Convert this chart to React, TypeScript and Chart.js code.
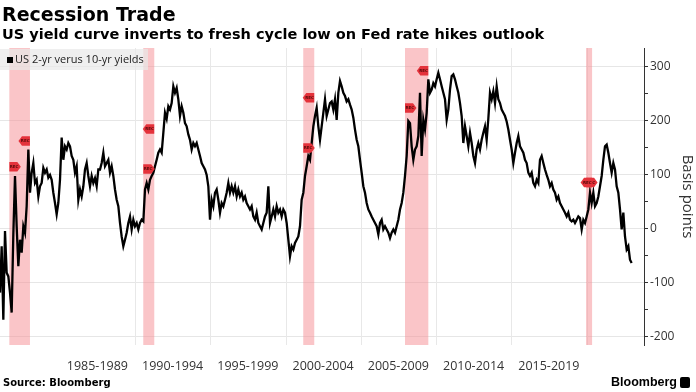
import React, { useEffect, useRef } from 'react';
import { Chart, registerables } from 'chart.js';

Chart.register(...registerables);

const TITLE = 'Recession Trade';
const SUBTITLE = 'US yield curve inverts to fresh cycle low on Fed rate hikes outlook';
const SERIES_LABEL = 'US 2-yr verus 10-yr yields';
const AXIS_TITLE = 'Basis points';
const SOURCE = 'Source: Bloomberg';
const BRAND = 'Bloomberg';
const TAG_TEXT = 'REC';

// Spread samples, roughly every 40 days, starting early 1981 (basis points)
const FIRST_SAMPLE_YEAR = 1981.03;
const SAMPLE_INTERVAL_YEARS = 0.11074;
const spreadBp = [
  -118, -32, -168, -4, -81, -88, -118, -155, -10, 98,
  5, -69, -20, -44, 5, -7, 42, 147, 67, 104,
  122, 85, 91, 60, 79, 85, 113, 104, 110, 95,
  100, 91, 67, 48, 27, 48, 91, 169, 128, 153,
  147, 159, 153, 135, 128, 104, 116, 54, 73, 60,
  79, 110, 122, 98, 79, 98, 85, 94, 79, 110,
  110, 122, 141, 116, 122, 128, 104, 116, 98, 73,
  54, 42, 11, -14, -32, -20, -7, 11, 23, -1,
  17, 5, 11, -1, 11, 17, 14, 73, 85, 73,
  91, 98, 104, 116, 128, 141,
  147, 141, 178, 215, 204, 227, 221, 233, 264, 252,
  261, 240, 209, 227, 215, 196, 190, 175, 165, 147,
  159, 153, 159, 147, 135, 122, 116, 110, 100, 79,
  17, 54, 42, 67, 73, 54, 30, 48, 42, 54,
  67, 85, 67, 79, 67, 79, 60, 73, 60, 67,
  54, 60, 48, 42, 36, 42, 23, 17, 30, 11,
  5, -1, 11, 23, 30, 79, 11, 23, 36, 23,
  42, 30, 36, 23, 36, 30, 11, -20, -51, -32,
  -38, -26, -20, -14, 5, 54, 67, 98, 116, 135,
  128, 159, 190, 209, 224, 190, 165, 190, 215,
  240, 209, 221, 233, 236, 221, 240, 202, 252, 274,
  264, 252, 246, 236, 240, 230, 221, 206, 184, 165,
  153, 128, 104, 79, 67, 48, 36, 30, 23, 17,
  11, 5, -10, 11, 17, -1, 5, -1, -7, -17,
  -7, -1, -7, 5, 17, 36, 48, 67, 98, 135,
  200, 196, 153, 128, 147, 153, 172, 252, 135, 202,
  184, 215, 277, 252, 258, 270, 264, 277, 289, 277,
  264, 252, 240, 202, 221, 258, 283, 286, 277, 264,
  252, 233, 209, 159, 190, 172, 153, 178, 159, 135,
  122, 147, 159, 147, 165, 178,
  190, 165, 204, 252, 240, 255, 233, 264, 240, 233,
  221, 215, 209, 199, 184, 165, 147, 122, 141, 159,
  172, 153, 147, 141, 128, 122, 104, 98, 104, 85,
  79, 91, 85, 128, 135, 122, 110, 100, 91, 79,
  85, 73, 67, 54, 60, 48, 42, 36, 30, 23,
  30, 17, 14, 17, 11, 17, 23, 20, -1, 17,
  11, 23, 36, 67, 48, 67, 42, 48, 60, 79,
  98, 128, 153, 156, 141, 122, 104, 122, 110, 79,
  67, 36, -1, 30, -14, -38, -32, -57, -63,
];

const periodLabels = ['1985-1989', '1990-1994', '1995-1999', '2000-2004', '2005-2009', '2010-2014', '2015-2019'];
const periodCenters = [1987.5, 1992.5, 1997.5, 2002.5, 2007.5, 2012.5, 2017.5];
const periodBoundaries = [1990, 1995, 2000, 2005, 2010, 2015, 2020];
const yTickValues = [-200, -150, -100, -50, 0, 50, 100, 150, 200, 250, 300];

const recessionStart = [1981.65, 1990.55, 2001.18, 2007.94, 2019.97];
const recessionEnd = [1983.02, 1991.28, 2001.91, 2009.49, 2020.37];
const startTagBp = [115, 111, 150, 224, 86];
const endTagBp = [163, 185, 243, 293, 86];

const X_MIN = 1981.03;
const X_MAX = 2023.82;
const Y_MIN = -215;
const Y_MAX = 335;

function drawTag(ctx: CanvasRenderingContext2D, edge: number, y: number, dir: number) {
  const w = 11.5;
  const h = 9.5;
  const p = 3.5;
  ctx.beginPath();
  if (dir > 0) {
    ctx.moveTo(edge, y - h / 2);
    ctx.lineTo(edge + w - p, y - h / 2);
    ctx.lineTo(edge + w, y);
    ctx.lineTo(edge + w - p, y + h / 2);
    ctx.lineTo(edge, y + h / 2);
  } else {
    ctx.moveTo(edge, y - h / 2);
    ctx.lineTo(edge - w + p, y - h / 2);
    ctx.lineTo(edge - w, y);
    ctx.lineTo(edge - w + p, y + h / 2);
    ctx.lineTo(edge, y + h / 2);
  }
  ctx.closePath();
  ctx.fillStyle = '#e4323b';
  ctx.fill();
  ctx.fillStyle = '#5a0a0a';
  ctx.font = 'bold 4px "DejaVu Sans"';
  ctx.textAlign = 'center';
  ctx.textBaseline = 'middle';
  ctx.fillText(TAG_TEXT, edge + (dir > 0 ? w / 2 - 1 : -w / 2 + 1), y);
}

export default function App() {
  const ref = useRef<HTMLCanvasElement>(null);

  useEffect(() => {
    const canvas = ref.current;
    if (!canvas) return;
    const points = spreadBp.map((v, i) => ({ x: FIRST_SAMPLE_YEAR + i * SAMPLE_INTERVAL_YEARS, y: v }));

    const overlay = {
      id: 'overlay',
      beforeDatasetsDraw(chart: any) {
        const { ctx, chartArea: a, scales } = chart;
        const x = scales.x;
        ctx.save();
        ctx.strokeStyle = '#e8e8e8';
        ctx.lineWidth = 1;
        periodBoundaries.forEach((yr) => {
          const px = Math.round(x.getPixelForValue(yr)) + 0.5;
          ctx.beginPath();
          ctx.moveTo(px, a.top);
          ctx.lineTo(px, a.bottom);
          ctx.stroke();
        });
        recessionStart.forEach((s, i) => {
          const x0 = x.getPixelForValue(s);
          const x1 = x.getPixelForValue(recessionEnd[i]);
          ctx.fillStyle = 'rgba(245,140,146,0.5)';
          ctx.fillRect(x0, a.top, x1 - x0, a.bottom - a.top);
        });
        ctx.restore();
      },
      afterDatasetsDraw(chart: any) {
        const { ctx, chartArea: a, scales } = chart;
        const x = scales.x;
        const y = scales.y;
        ctx.save();
        ctx.fillStyle = 'rgba(232,232,232,0.7)';
        ctx.fillRect(a.left, a.top + 1, 148, 21);
        ctx.fillStyle = '#000';
        ctx.fillRect(a.left + 7, a.top + 9, 6, 6);
        ctx.font = '11px "Open Sans"';
        ctx.fillStyle = '#222';
        ctx.textAlign = 'left';
        ctx.textBaseline = 'middle';
        ctx.fillText(SERIES_LABEL, a.left + 15, a.top + 12);
        recessionStart.forEach((s, i) => {
          drawTag(ctx, x.getPixelForValue(s), y.getPixelForValue(startTagBp[i]), 1);
          drawTag(ctx, x.getPixelForValue(recessionEnd[i]), y.getPixelForValue(endTagBp[i]), -1);
        });
        ctx.restore();
      },
    };

    const chart = new Chart(canvas, {
      type: 'line',
      data: {
        datasets: [
          {
            label: SERIES_LABEL,
            data: points,
            borderColor: '#000',
            borderWidth: 2.3,
            borderJoinStyle: 'miter',
            pointRadius: 0,
            tension: 0,
            fill: false,
          },
        ],
      },
      options: {
        responsive: false,
        animation: false,
        devicePixelRatio: 1,
        layout: { padding: { top: 48, left: 0, right: 0, bottom: 0 } },
        plugins: { legend: { display: false }, tooltip: { enabled: false }, title: { display: false } },
        scales: {
          x: {
            type: 'linear',
            position: 'bottom',
            min: X_MIN,
            max: X_MAX,
            afterBuildTicks: (s: any) => {
              s.ticks = periodCenters.map((v) => ({ value: v }));
            },
            afterFit: (s: any) => {
              s.height = 47;
            },
            grid: { display: false, drawTicks: false },
            border: { display: false },
            ticks: {
              autoSkip: false,
              maxRotation: 0,
              padding: 14,
              color: '#333',
              font: { family: 'Open Sans', size: 12.5 },
              callback: (_v: any, i: number) => periodLabels[i],
            },
          },
          y: {
            position: 'right',
            min: Y_MIN,
            max: Y_MAX,
            afterBuildTicks: (s: any) => {
              s.ticks = yTickValues.map((v) => ({ value: v }));
            },
            afterFit: (s: any) => {
              s.width = 52;
            },
            grid: {
              color: (c: any) => (c.tick && c.tick.value % 100 === 0 ? '#e6e6e6' : 'rgba(0,0,0,0)'),
              tickColor: '#333',
              tickLength: 4,
              lineWidth: 1,
            },
            border: { display: true, color: '#333', width: 1 },
            ticks: {
              autoSkip: false,
              padding: 2,
              color: '#333',
              font: { family: 'Open Sans', size: 12 },
              callback: (v: any) => (Number(v) % 100 === 0 ? String(v) : ''),
            },
            title: {
              display: true,
              text: AXIS_TITLE,
              color: '#333',
              padding: 0,
              font: { family: 'Open Sans', size: 15 },
            },
          },
        },
      },
      plugins: [overlay],
    });
    return () => chart.destroy();
  }, []);

  return (
    <div style={{ position: 'absolute', left: 0, top: 0, width: 696, height: 392, background: '#fff', overflow: 'hidden' }}>
      <canvas ref={ref} width={696} height={392} style={{ position: 'absolute', left: 0, top: 0, width: 696, height: 392 }} />
      <div style={{ position: 'absolute', left: 2, top: 5, font: 'bold 19px/19px "DejaVu Sans"', color: '#000', whiteSpace: 'nowrap' }}>{TITLE}</div>
      <div style={{ position: 'absolute', left: 2, top: 27, font: 'bold 14.5px/15px "DejaVu Sans"', color: '#000', whiteSpace: 'nowrap' }}>{SUBTITLE}</div>
      <div style={{ position: 'absolute', left: 3, top: 378, font: 'bold 10px/10px "DejaVu Sans"', color: '#000', whiteSpace: 'nowrap' }}>{SOURCE}</div>
      <div style={{ position: 'absolute', left: 611, top: 376, font: 'bold 12.5px/13px "Liberation Sans"', color: '#000', whiteSpace: 'nowrap' }}>{BRAND}</div>
      <div style={{ position: 'absolute', left: 680, top: 377, width: 10, height: 11, background: '#000', borderRadius: 2 }} />
    </div>
  );
}
